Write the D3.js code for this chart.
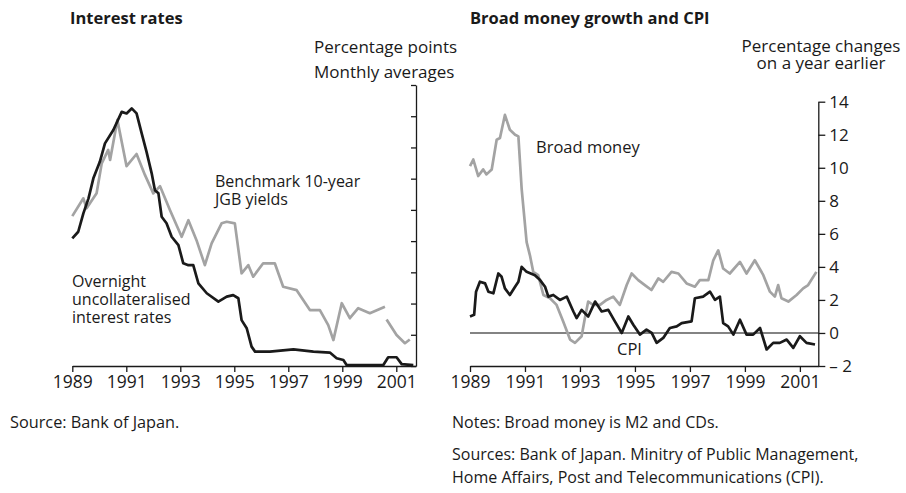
<!DOCTYPE html>
<html><head><meta charset="utf-8">
<script src="https://cdn.jsdelivr.net/npm/d3@7"></script>
<style>
html,body{margin:0;padding:0;background:#fff;}
svg{display:block;font-family:"Open Sans",sans-serif;}
</style></head>
<body><svg id="c" width="906" height="493"></svg>
<script>
// ---- Data (decimal years, percent) ----
const yearTicks = [1989, 1991, 1993, 1995, 1997, 1999, 2001];
const leftYTicks = [0,1,2,3,4,5,6,7,8,9];
const rightYTicks = [-2,0,2,4,6,8,10,12,14];

const jgbDates = [1989.0,1989.41,1989.53,1989.9,1990.09,1990.33,1990.4,1990.67,1991.01,1991.38,1991.69,1992.0,1992.25,1992.62,1993.05,1993.3,1993.6,1993.91,1994.16,1994.53,1994.72,1995.02,1995.27,1995.52,1995.7,1996.07,1996.5,1996.81,1997.31,1997.8,1998.17,1998.48,1998.67,1998.98,1999.28,1999.59,2000.02,2000.58,2000.61,2000.64,2001.01,2001.32,2001.5];
const jgbValues = [4.80,5.37,5.05,5.53,6.49,6.92,6.60,7.88,6.40,6.79,6.12,5.53,5.76,4.99,4.14,4.67,4.03,3.23,3.93,4.57,4.62,4.57,2.97,3.23,2.86,3.29,3.29,2.54,2.43,1.79,1.79,1.31,0.83,2.01,1.53,1.85,1.69,1.90,null,1.49,0.99,0.73,0.85];

const callDates = [1989.0,1989.22,1989.41,1989.6,1989.78,1990.02,1990.21,1990.52,1990.83,1991.01,1991.2,1991.38,1991.57,1991.75,1991.94,1992.06,1992.19,1992.31,1992.49,1992.68,1992.93,1993.11,1993.3,1993.48,1993.67,1993.98,1994.41,1994.72,1994.96,1995.15,1995.27,1995.46,1995.64,1995.77,1996.32,1997.19,1997.93,1998.54,1998.79,1999.04,1999.16,2000.52,2000.7,2001.01,2001.2,2001.63];
const callValues = [4.09,4.30,4.89,5.37,6.01,6.54,7.13,7.56,8.14,8.09,8.25,8.09,7.45,6.86,6.17,5.63,5.53,4.78,4.57,4.14,3.87,3.29,3.23,3.23,2.65,2.33,2.06,2.22,2.27,2.17,1.47,1.21,0.62,0.46,0.46,0.53,0.46,0.43,0.25,0.19,0.03,0.03,0.28,0.28,0.06,0.03];

const m2Dates = [1989.0,1989.12,1989.3,1989.48,1989.6,1989.79,1989.97,1990.09,1990.27,1990.45,1990.64,1990.76,1990.88,1991.06,1991.18,1991.3,1991.48,1991.67,1991.91,1992.15,1992.39,1992.64,1992.82,1993.06,1993.18,1993.3,1993.48,1993.73,1993.97,1994.21,1994.45,1994.7,1994.88,1995.12,1995.36,1995.6,1995.85,1996.03,1996.33,1996.58,1996.88,1997.18,1997.36,1997.67,1997.85,1998.03,1998.21,1998.45,1998.82,1999.06,1999.36,1999.67,1999.91,2000.09,2000.21,2000.33,2000.58,2000.88,2001.12,2001.3,2001.6];
const m2Values = [10.1,10.5,9.5,9.9,9.6,9.9,11.7,11.8,13.2,12.3,12.0,11.9,8.7,5.5,4.7,3.7,3.5,2.3,2.1,1.7,0.7,-0.4,-0.6,-0.2,0.9,1.9,1.7,1.7,2.0,2.2,1.7,2.9,3.6,3.2,2.9,2.6,3.3,3.1,3.7,3.6,3.0,2.8,3.2,3.2,4.4,5.0,3.9,3.6,4.3,3.6,4.4,3.5,2.5,2.2,2.9,2.1,1.9,2.3,2.7,2.9,3.7];

const cpiDates = [1989.0,1989.15,1989.22,1989.36,1989.55,1989.67,1989.85,1990.03,1990.15,1990.27,1990.45,1990.64,1990.76,1990.88,1991.06,1991.36,1991.55,1991.73,1991.85,1992.03,1992.27,1992.52,1992.76,1992.88,1993.06,1993.3,1993.55,1993.79,1994.03,1994.27,1994.52,1994.76,1994.94,1995.18,1995.42,1995.61,1995.79,1996.03,1996.27,1996.52,1996.7,1997.06,1997.18,1997.48,1997.73,1997.91,1998.09,1998.21,1998.39,1998.58,1998.82,1999.06,1999.3,1999.55,1999.79,2000.03,2000.27,2000.52,2000.76,2001.0,2001.24,2001.55];
const cpiValues = [1.0,1.1,2.5,3.1,3.0,2.5,2.4,3.6,3.4,2.7,2.3,2.8,3.1,4.0,3.7,3.5,3.2,2.8,2.2,2.3,2.0,2.2,1.3,0.9,1.4,1.0,1.9,1.3,1.4,0.7,0.0,1.0,0.5,-0.1,0.2,0.0,-0.6,-0.3,0.3,0.4,0.6,0.7,2.1,2.2,2.5,2.0,2.2,0.6,0.4,-0.1,0.8,-0.1,-0.1,0.3,-1.0,-0.6,-0.6,-0.4,-0.9,-0.2,-0.6,-0.7];

// ---- Drawing ----
const svg = d3.select("#c");
const BLACK = "#1a1a1a", GREY = "#a3a3a3", FS = 16;

function txt(x, y, s, opts={}) {
  return svg.append("text").attr("x", x).attr("y", y).text(s)
    .attr("font-size", opts.size || FS)
    .attr("font-weight", opts.bold ? "bold" : "normal")
    .attr("text-anchor", opts.anchor || "start")
    .attr("fill", "#1a1a1a");
}
function line(x, y, dates, vals, color) {
  const data = dates.map((d,i)=>[d, vals[i]]);
  svg.append("path").datum(data)
    .attr("fill","none").attr("stroke",color).attr("stroke-width",2.7)
    .attr("stroke-linejoin","round")
    .attr("d", d3.line().defined(d=>d[1]!==null).x(d=>x(d[0])).y(d=>y(d[1])));
}

// Left panel
const xL = d3.scaleLinear().domain([1989, 2001.73]).range([72.3, 416]);
const yL = d3.scaleLinear().domain([0, 9]).range([366, 85]);
line(xL, yL, jgbDates, jgbValues, GREY);
line(xL, yL, callDates, callValues, BLACK);

const gxL = svg.append("g").attr("transform","translate(0,366)")
  .call(d3.axisBottom(xL).tickValues(yearTicks).tickFormat(d3.format("d")).tickSize(6).tickSizeOuter(0).tickPadding(4));
const gyL = svg.append("g").attr("transform","translate(416,0)")
  .call(d3.axisLeft(yL).tickValues(leftYTicks).tickSize(5).tickSizeOuter(0).tickFormat(""));

// Right panel
const xR = d3.scaleLinear().domain([1989, 2001.67]).range([470, 818.3]);
const yR = d3.scaleLinear().domain([-2, 14]).range([366, 101.7]);
svg.append("line").attr("x1", 470).attr("x2", 818.3).attr("y1", yR(0)).attr("y2", yR(0))
  .attr("stroke","#5a5a5a").attr("stroke-width",1.4);
line(xR, yR, m2Dates, m2Values, GREY);
line(xR, yR, cpiDates, cpiValues, BLACK);

const gxR = svg.append("g").attr("transform","translate(0,366)")
  .call(d3.axisBottom(xR).tickValues(yearTicks).tickFormat(d3.format("d")).tickSize(6).tickSizeOuter(0).tickPadding(4));
const gyR = svg.append("g").attr("transform","translate(818.3,0)")
  .call(d3.axisRight(yR).tickValues(rightYTicks).tickSize(7).tickSizeOuter(0).tickPadding(4)
    .tickFormat(d => d < 0 ? "\u2013 " + Math.abs(d) : String(d)));

[gxL, gyL, gxR, gyR].forEach(g => {
  g.selectAll("path.domain").attr("stroke", BLACK).attr("stroke-width", 1.3);
  g.selectAll(".tick line").attr("stroke", BLACK).attr("stroke-width", 1.3);
  g.selectAll(".tick text").attr("font-size", 17.5).attr("font-family", "Open Sans").attr("fill", "#1a1a1a");
});
gyR.selectAll(".tick text").attr("font-size", 17);

// Titles & labels
txt(70, 24, "Interest rates", {bold:true, size:16.5});
txt(470, 24, "Broad money growth and CPI", {bold:true, size:16.5});
txt(314, 53, "Percentage points", {size:17});
txt(314, 78, "Monthly averages", {size:17});
txt(821, 52, "Percentage changes", {anchor:"middle", size:17});
txt(821, 69, "on a year earlier", {anchor:"middle", size:17});

txt(215, 187, "Benchmark 10-year");
txt(215, 205, "JGB yields");
txt(72, 287, "Overnight");
txt(72, 305, "uncollateralised");
txt(72, 323, "interest rates");
txt(536, 153, "Broad money", {size:16.5});
txt(617, 355, "CPI", {size:16.5});

txt(10, 428, "Source: Bank of Japan.", {size:16.3});
txt(452, 428, "Notes: Broad money is M2 and CDs.", {size:16});
txt(452, 460, "Sources: Bank of Japan. Minitry of Public Management,", {size:16});
txt(452, 483, "Home Affairs, Post and Telecommunications (CPI).", {size:16});
</script></body></html>
